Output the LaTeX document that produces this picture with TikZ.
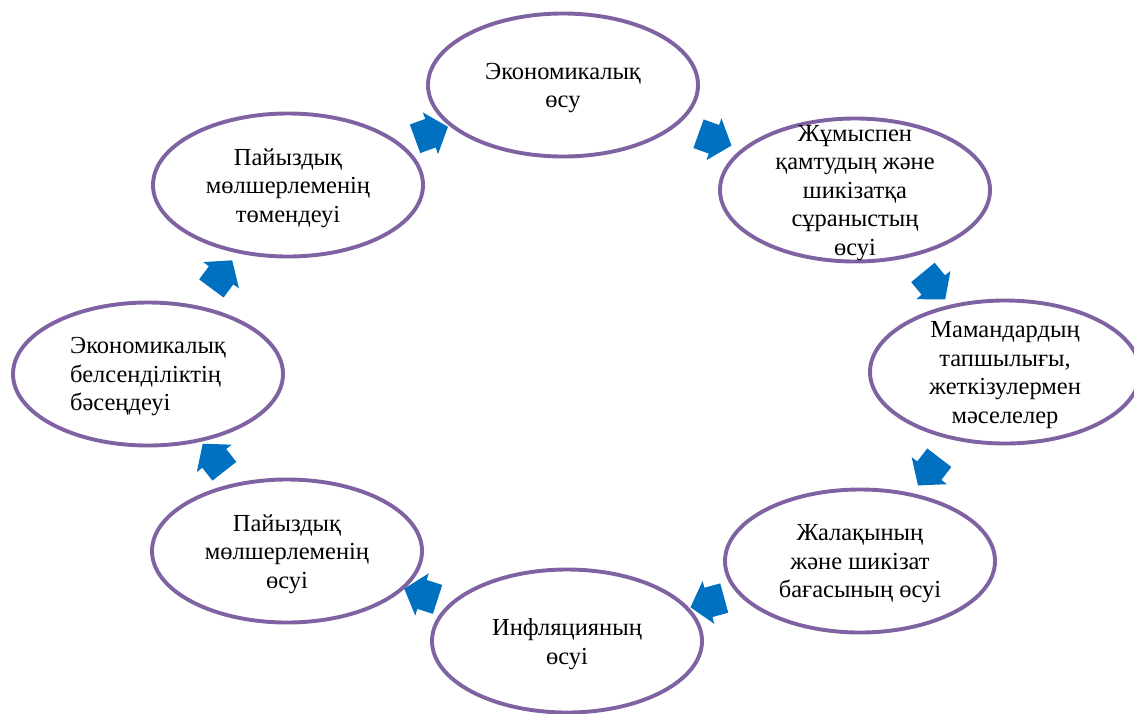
\documentclass[tikz,border=0pt]{standalone}
\usepackage{fontspec}
\setmainfont{Liberation Serif}
\usetikzlibrary{shapes.geometric,shapes.arrows}
\definecolor{ringpurple}{HTML}{7F62A1}
\definecolor{arrowblue}{HTML}{0070C0}
\begin{document}
\begin{tikzpicture}[x=1pt,y=-1pt,
  ring/.style={ellipse, draw=ringpurple, line width=3.9pt, minimum width=270pt, minimum height=143pt, inner sep=0pt},
  ringtext/.style={align=center, font=\fontsize{24.5}{28.5}\selectfont, inner sep=0pt, yshift=-3pt},
  cycarrow/.style={single arrow, fill=arrowblue, draw=none, inner xsep=0pt, inner ysep=15pt,
    minimum height=35pt, single arrow head extend=7pt, single arrow tip angle=100,
    sloped, allow upside down, anchor=center}
]
\useasboundingbox (0,0) rectangle (1134,713);

\node[ring] (e1) at (563,85) {};
\node[ring] (e2) at (855,190) {};
\node[ring] (e3) at (1005,372) {};
\node[ring] (e4) at (860,561) {};
\node[ring] (e5) at (567,641) {};
\node[ring] (e6) at (287,551) {};
\node[ring] (e7) at (148,374) {};
\node[ring] (e8) at (288,185) {};

\node[ringtext] (t1) at (e1) {Экономикалық\\өсу};
\node[ringtext] (t2) at (e2) {Жұмыспен\\қамтудың және\\шикізатқа\\сұраныстың\\өсуі};
\node[ringtext] (t3) at (e3) {Мамандардың\\тапшылығы,\\жеткізулермен\\мәселелер};
\node[ringtext] (t4) at (e4) {Жалақының\\және шикізат\\бағасының өсуі};
\node[ringtext] (t5) at (e5) {Инфляцияның\\өсуі};
\node[ringtext] (t6) at (e6) {Пайыздық\\мөлшерлеменің\\өсуі};
\node[ringtext, align=left] (t7) at (e7) {Экономикалық\\белсенділіктің\\бәсеңдеуі};
\node[ringtext] (t8) at (e8) {Пайыздық\\мөлшерлеменің\\төмендеуі};

\path (e8.center) -- node[cycarrow] (a81) {} (e1.center);
\path (e1.center) -- node[cycarrow] (a12) {} (e2.center);
\path (e2.center) -- node[cycarrow] (a23) {} (e3.center);
\path (e3.center) -- node[cycarrow] (a34) {} (e4.center);
\path (e4.center) -- node[cycarrow] (a45) {} (e5.center);
\path (e5.center) -- node[cycarrow] (a56) {} (e6.center);
\path (e6.center) -- node[cycarrow] (a67) {} (e7.center);
\path (e7.center) -- node[cycarrow] (a78) {} (e8.center);
\end{tikzpicture}
\end{document}
